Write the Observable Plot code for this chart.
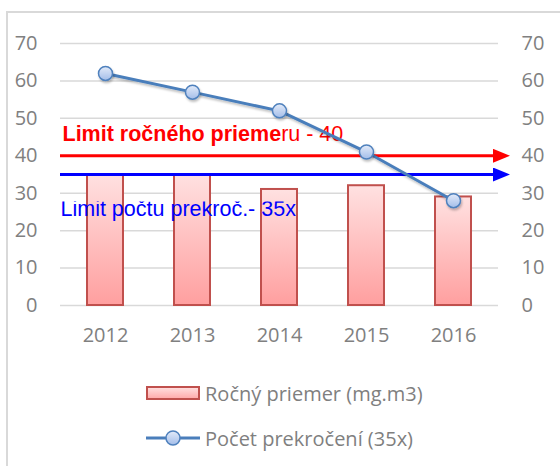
<!DOCTYPE html>
<html><head><meta charset="utf-8">
<script src="https://cdn.jsdelivr.net/npm/d3@7"></script>
<script src="https://cdn.jsdelivr.net/npm/@observablehq/plot@0.6"></script>
<style>
body{margin:0;background:#fff;}
#wrap{position:relative;width:560px;height:466px;overflow:hidden;font-family:"Open Sans",sans-serif;}
#frame{position:absolute;left:6px;top:11px;width:600px;height:500px;border-top:2px solid #d9d9d9;border-left:2px solid #d9d9d9;}
#chart{position:absolute;left:0;top:0;}
#legend{position:absolute;left:0;top:372px;width:560px;}
.lg-row{position:absolute;left:146px;height:30px;display:flex;align-items:center;font-size:20px;color:#7f7f7f;font-family:"Open Sans",sans-serif;}
.lg-row svg{margin-right:5px;}
</style></head><body>
<div id="wrap"><div id="frame"></div><div id="chart"></div><div id="legend"></div></div>
<script>
const years = ["2012", "2013", "2014", "2015", "2016"];
const annualMean = [35, 35, 31, 32, 29];
const exceedances = [62, 57, 52, 41, 28];
const yTicks = [0, 10, 20, 30, 40, 50, 60, 70];
const limitMean = 40;
const limitCount = 35;
const labelMeanBold = "Limit ročného prieme";
const labelMeanRest = "ru - 40";
const labelCount = "Limit počtu prekroč.- 35x";
const seriesNames = ["Ročný priemer (mg.m3)", "Počet prekročení (35x)"];

const data = years.map((y, i) => ({year: y, mean: annualMean[i], count: exceedances[i]}));
const ns = "http://www.w3.org/2000/svg";

const RED = "#ff0000", BLUE = "#0000ff", LINE = "#4a7ebb";

const defs = () => {
  const g = document.createElementNS(ns, "g");
  g.innerHTML = `<defs>
    <linearGradient id="barGrad" x1="0" y1="0" x2="0" y2="1">
      <stop offset="0" stop-color="#ffe1e1"/><stop offset="1" stop-color="#ff9f9f"/>
    </linearGradient>
    <linearGradient id="dotGrad" x1="0" y1="0" x2="0" y2="1">
      <stop offset="0" stop-color="#e3ebf9"/><stop offset="1" stop-color="#a3bde9"/>
    </linearGradient>
    <marker id="arrRed" markerUnits="userSpaceOnUse" markerWidth="17" markerHeight="14" viewBox="0 0 17 14" refX="5" refY="7" orient="auto">
      <path d="M0,0L17,7L0,14Z" fill="${RED}"/>
    </marker>
    <marker id="arrBlue" markerUnits="userSpaceOnUse" markerWidth="17" markerHeight="14" viewBox="0 0 17 14" refX="5" refY="7" orient="auto">
      <path d="M0,0L17,7L0,14Z" fill="${BLUE}"/>
    </marker>
    <filter id="shadow" x="-20%" y="-20%" width="140%" height="140%">
      <feDropShadow dx="1" dy="2" stdDeviation="1.2" flood-color="#000" flood-opacity="0.25"/>
    </filter>
  </defs>`;
  return g;
};

const axisFont = {fontFamily: "Open Sans", fontSize: 20, fill: "#808080"};

const plot = Plot.plot({
  width: 560, height: 360,
  marginLeft: 60, marginRight: 62, marginTop: 43, marginBottom: 55,
  x: {domain: years, paddingInner: 0.59, paddingOuter: 0.295, axis: null},
  y: {domain: [0, 70], axis: null},
  style: {background: "transparent", overflow: "visible"},
  marks: [
    defs,
    Plot.ruleY(yTicks, {y: d => d, stroke: "#d9d9d9", strokeWidth: 1.5}),
    Plot.text(yTicks, {y: d => d, text: d => String(d), frameAnchor: "left", textAnchor: "end", dx: -23, ...axisFont}),
    Plot.text(yTicks, {y: d => d, text: d => String(d), frameAnchor: "right", textAnchor: "start", dx: 23, ...axisFont}),
    Plot.text(years, {x: d => d, text: d => d, frameAnchor: "bottom", lineAnchor: "top", dy: 22, ...axisFont}),
    Plot.barY(data, {x: "year", y: "mean", fill: "url(#barGrad)", stroke: "#c0504d", strokeWidth: 2}),
    Plot.ruleY([limitMean], {y: d => d, stroke: RED, strokeWidth: 3}),
    Plot.ruleY([limitCount], {y: d => d, stroke: BLUE, strokeWidth: 3}),
    Plot.text([limitMean], {y: d => d, text: () => labelMeanBold + labelMeanRest, frameAnchor: "left", textAnchor: "start", dx: 2, dy: -22, fontFamily: "Liberation Sans", fontSize: 21.5, fontWeight: "bold", fill: RED}),
    Plot.text([limitCount], {y: d => d, text: () => labelCount, frameAnchor: "left", textAnchor: "start", dx: 0, dy: 35, fontFamily: "Liberation Sans", fontSize: 21.5, fill: BLUE}),
    Plot.line(data, {x: "year", y: "count", stroke: LINE, strokeWidth: 3}),
    Plot.dot(data, {x: "year", y: "count", r: 7, fill: "url(#dotGrad)", stroke: "#4f81bd", strokeWidth: 1.5})
  ]
});

const svg = d3.select(plot);
svg.selectAll(`g[stroke="${RED}"] line`).attr("marker-end", "url(#arrRed)");
svg.selectAll(`g[stroke="${BLUE}"] line`).attr("marker-end", "url(#arrBlue)");
svg.selectAll(`g[stroke="${LINE}"], g[stroke="#4f81bd"]`).attr("filter", "url(#shadow)");
svg.selectAll(`g[fill="${RED}"] text`).each(function() {
  const t = d3.select(this);
  t.text(null);
  t.append("tspan").attr("font-weight", "bold").text(labelMeanBold);
  t.append("tspan").attr("font-weight", "normal").text(labelMeanRest);
});
svg.selectAll(`g[fill="${BLUE}"] text`).style("clip-path", "inset(17% 0 0 0)");
document.getElementById("chart").appendChild(plot);

// Legend
const legend = document.getElementById("legend");
const row1 = document.createElement("div");
row1.className = "lg-row"; row1.style.top = "6px";
row1.innerHTML = `<svg width="54" height="16"><defs><linearGradient id="lgBar" x1="0" y1="0" x2="0" y2="1"><stop offset="0" stop-color="#ffe1e1"/><stop offset="1" stop-color="#ffa8a8"/></linearGradient></defs><rect x="1" y="2" width="52" height="12" fill="url(#lgBar)" stroke="#c0504d" stroke-width="2"/></svg><span>${seriesNames[0]}</span>`;
const row2 = document.createElement("div");
row2.className = "lg-row"; row2.style.top = "51px";
row2.innerHTML = `<svg width="54" height="18"><line x1="0" y1="9" x2="54" y2="9" stroke="${LINE}" stroke-width="3"/><circle cx="27" cy="9" r="7" fill="url(#dotGrad)" stroke="#4f81bd" stroke-width="1.5"/></svg><span>${seriesNames[1]}</span>`;
legend.appendChild(row1);
legend.appendChild(row2);
</script>
</body></html>
